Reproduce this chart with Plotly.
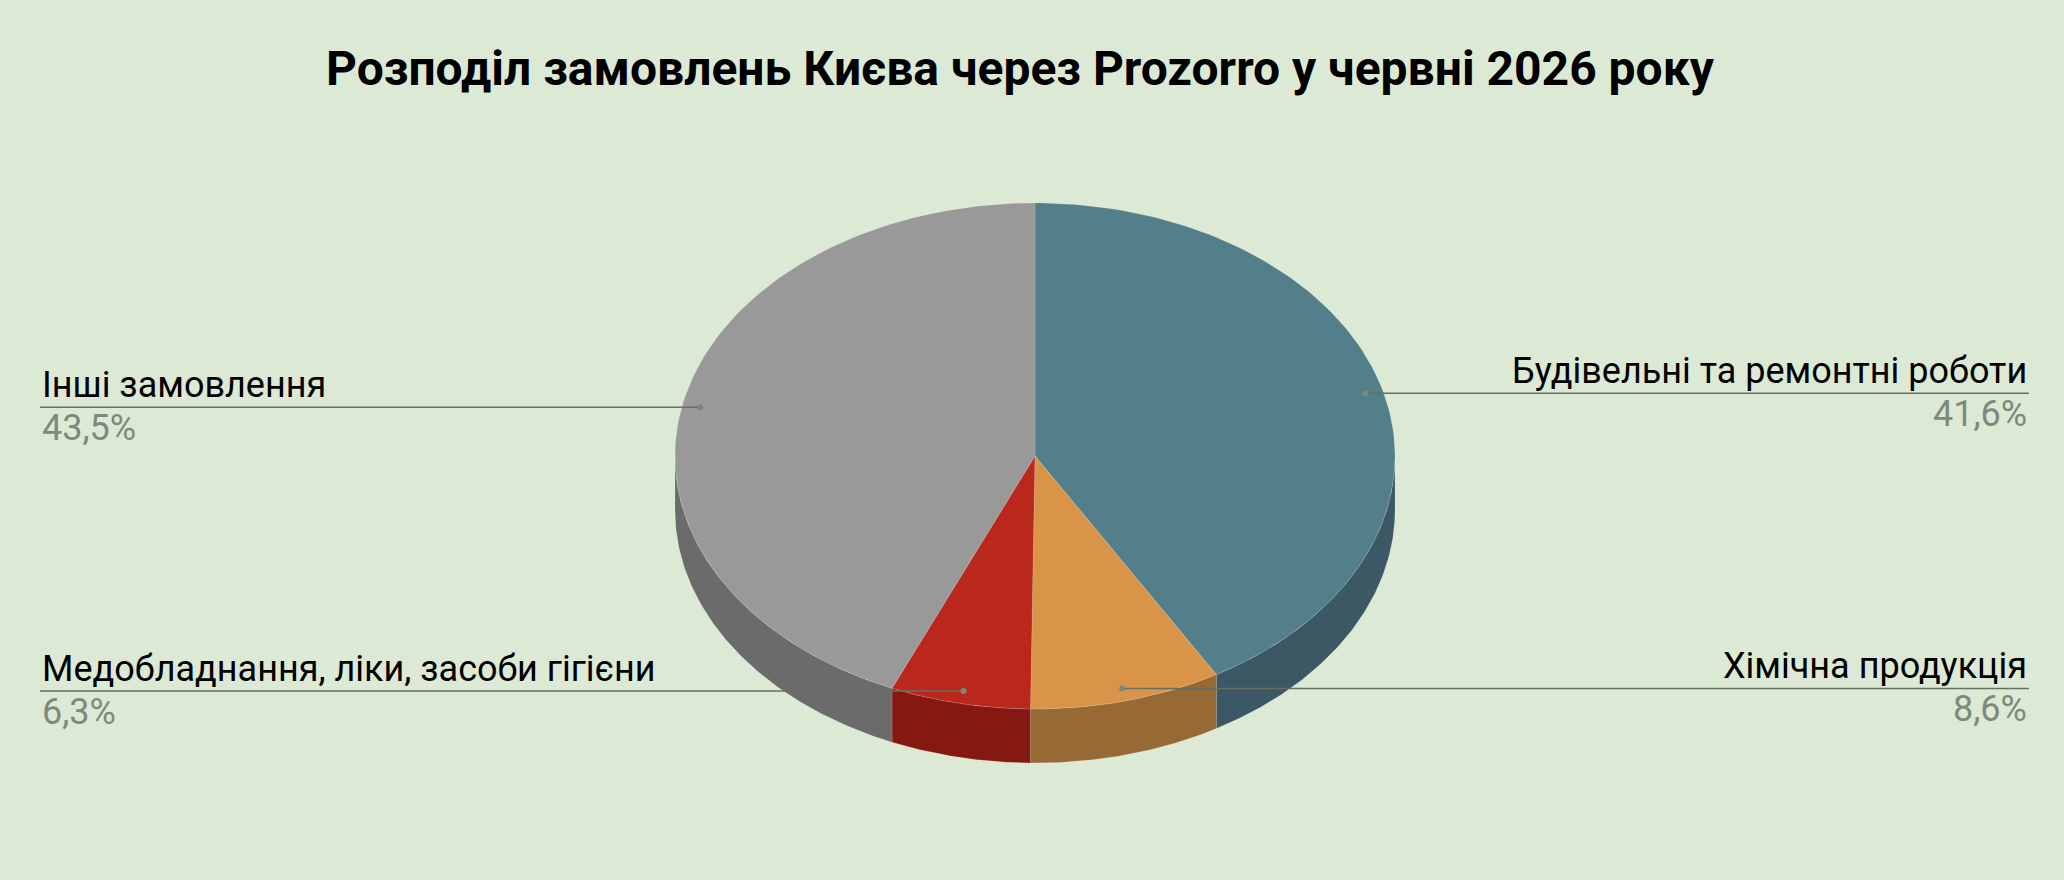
import numpy as np
import plotly.graph_objects as go

# ---------------- data ----------------
categories = [
    "Будівельні та ремонтні роботи",
    "Хімічна продукція",
    "Медобладнання, ліки, засоби гігієни",
    "Інші замовлення",
]
shares = [41.6, 8.6, 6.3, 43.5]
pct_labels = ["41,6%", "8,6%", "6,3%", "43,5%"]
title_text = "Розподіл замовлень Києва через Prozorro у червні 2026 року"

top_colors = ["#537F8B", "#D9944A", "#BA271D", "#999999"]
side_colors = ["#3B5864", "#976934", "#851811", "#6B6B6B"]

# ---------------- geometry / layout ----------------
W, H = 2064, 880
CX, CY = 1035, 456          # pie centre (px)
RX = 360.0                  # horizontal radius (px) -> 1 axis unit
TILT = 253.0 / 360.0        # vertical squash of the top ellipse
DEPTH = 54.0 / 360.0        # thickness of the pie
LABEL_R = 0.95              # where leader lines start
LEFT_EDGE_PX, RIGHT_EDGE_PX = 40, 2029

x_range = [-CX / RX, (W - CX) / RX]
y_range = [-(H - CY) / RX, CY / RX]

BG = "#DCE9D5"


def px_to_x(px):
    return x_range[0] + px / W * (x_range[1] - x_range[0])


def arc(a_deg, b_deg, n=120, dy=0.0):
    t = np.radians(np.linspace(a_deg, b_deg, n))
    return np.sin(t), TILT * np.cos(t) + dy


fig = go.Figure()

total = sum(shares)
starts = np.cumsum([0] + shares[:-1]) / total * 360.0
ends = np.cumsum(shares) / total * 360.0

# side walls (front half only: 90..270 deg clockwise from top)
for s, e, col in zip(starts, ends, side_colors):
    a, b = max(s, 90.0), min(e, 270.0)
    if b <= a:
        continue
    xt, yt = arc(a, b)
    xb, yb = arc(b, a, dy=-DEPTH)
    fig.add_trace(go.Scatter(
        x=np.concatenate([xt, xb, xt[:1]]),
        y=np.concatenate([yt, yb, yt[:1]]),
        mode="lines", fill="toself", fillcolor=col,
        line=dict(color="rgba(255,255,255,0.18)", width=0.8),
        hoverinfo="skip", showlegend=False,
    ))

# top faces
for s, e, col, name, val in zip(starts, ends, top_colors, categories, shares):
    xa, ya = arc(s, e)
    fig.add_trace(go.Scatter(
        x=np.concatenate([[0], xa, [0]]),
        y=np.concatenate([[0], ya, [0]]),
        mode="lines", fill="toself", fillcolor=col,
        line=dict(color="rgba(255,255,255,0.18)", width=0.8),
        name=name, hovertemplate=f"{name}: {val}%<extra></extra>",
        showlegend=False,
    ))

# leader lines, dots and labels
annotations = []
for s, e, name, pl in zip(starts, ends, categories, pct_labels):
    mid = np.radians((s + e) / 2)
    ax, ay = LABEL_R * np.sin(mid), LABEL_R * TILT * np.cos(mid)
    right = np.sin(mid) >= 0
    edge = px_to_x(RIGHT_EDGE_PX if right else LEFT_EDGE_PX)
    fig.add_trace(go.Scatter(
        x=[ax, edge], y=[ay, ay], mode="lines",
        line=dict(color="#66705F", width=1.5),
        hoverinfo="skip", showlegend=False,
    ))
    fig.add_trace(go.Scatter(
        x=[ax], y=[ay], mode="markers",
        marker=dict(color="#7C877A", size=6),
        hoverinfo="skip", showlegend=False,
    ))
    xanchor = "right" if right else "left"
    annotations.append(dict(
        x=edge, y=ay, xref="x", yref="y", text=name, showarrow=False,
        xanchor=xanchor, yanchor="bottom", yshift=-1,
        font=dict(family="Roboto", size=36, color="#000000"),
    ))
    annotations.append(dict(
        x=edge, y=ay, xref="x", yref="y", text=pl, showarrow=False,
        xanchor=xanchor, yanchor="top", yshift=2,
        font=dict(family="Roboto", size=36, color="#7F897B"),
    ))

annotations.append(dict(
    x=1020 / W, y=1 - 68 / H, xref="paper", yref="paper",
    text=f"<b>{title_text}</b>", showarrow=False,
    xanchor="center", yanchor="middle",
    font=dict(family="Roboto", size=48, color="#000000"),
))

fig.update_layout(
    width=W, height=H, autosize=False,
    margin=dict(l=0, r=0, t=0, b=0),
    paper_bgcolor=BG, plot_bgcolor=BG,
    xaxis=dict(range=x_range, visible=False, fixedrange=True),
    yaxis=dict(range=y_range, visible=False, fixedrange=True),
    annotations=annotations,
    showlegend=False,
)

fig.write_html("out.html")
